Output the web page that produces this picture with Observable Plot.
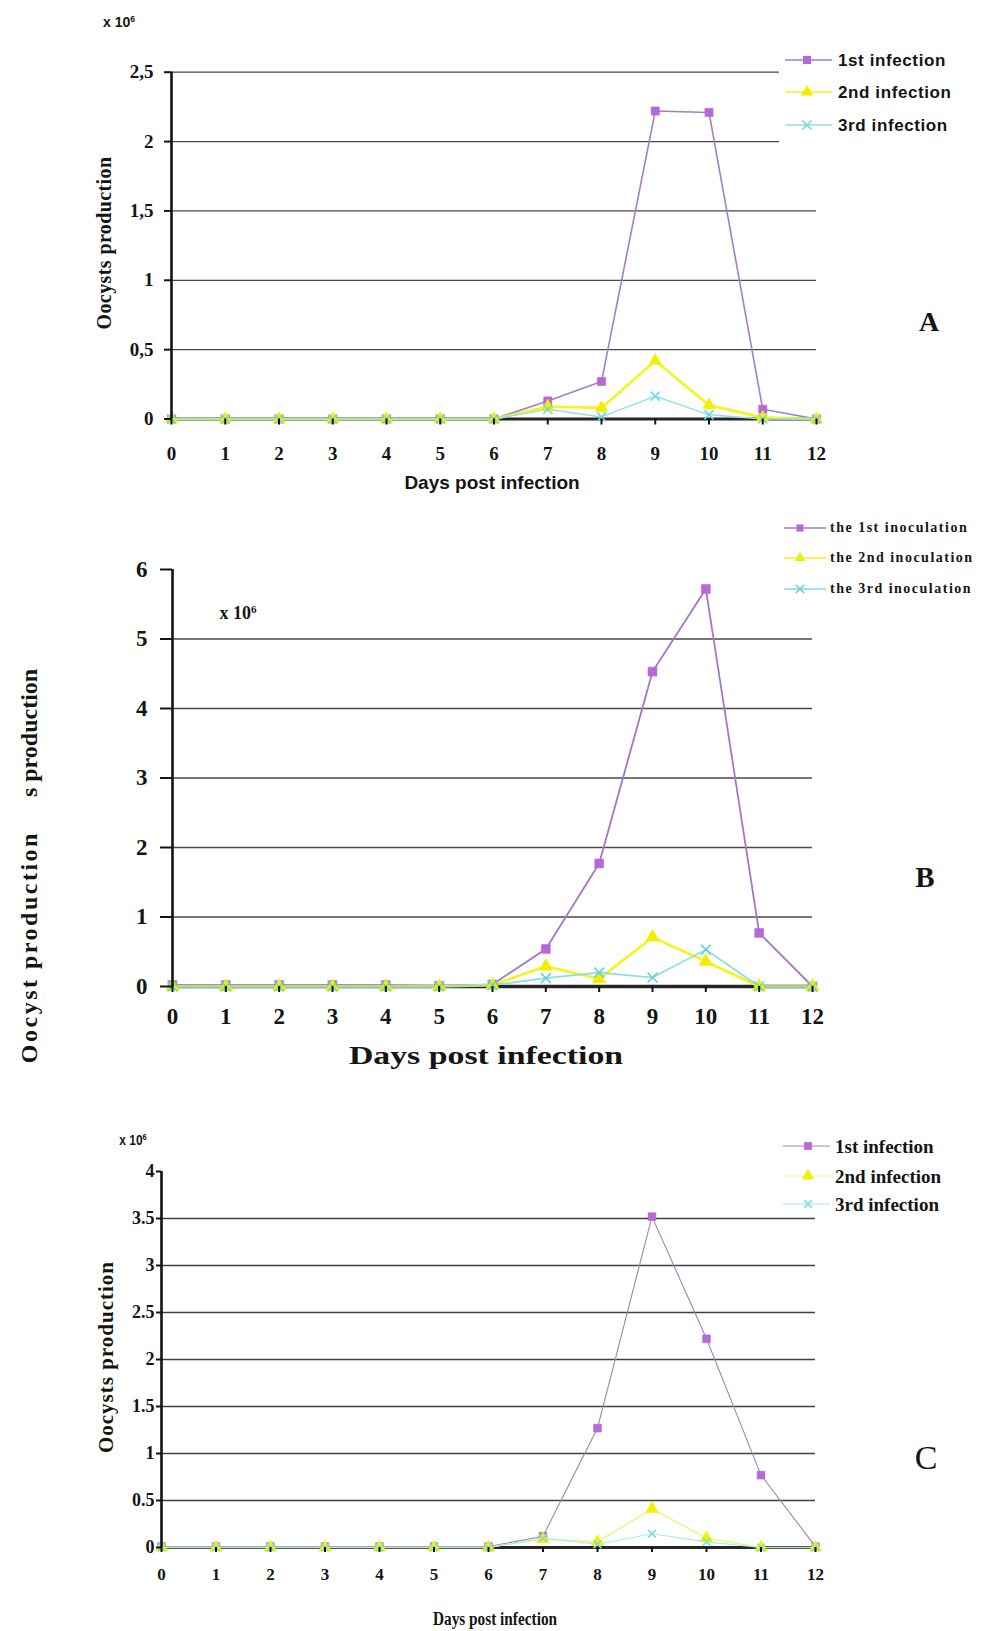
<!DOCTYPE html>
<html>
<head>
<meta charset="utf-8">
<script src="https://cdn.jsdelivr.net/npm/d3@7"></script>
<script src="https://cdn.jsdelivr.net/npm/@observablehq/plot@0.6"></script>
<style>
  html, body { margin: 0; padding: 0; background: #fff; }
  #root { position: relative; width: 985px; height: 1631px; overflow: hidden; background: #fff; }
  .abs { position: absolute; white-space: pre; color: #151515; line-height: 1; }
  .serif { font-family: "Liberation Serif", "Times New Roman", serif; font-weight: bold; }
  .serifn { font-family: "Liberation Serif", "Times New Roman", serif; font-weight: normal; }
  .sans { font-family: "Liberation Sans", Arial, sans-serif; font-weight: bold; }
  .panel { position: absolute; left: 0; }
  sup { font-size: 0.62em; vertical-align: 0.55em; line-height: 0; }
</style>
</head>
<body>
<div id="root"></div>
<script>
// ---------- data ----------
const days = [0, 1, 2, 3, 4, 5, 6, 7, 8, 9, 10, 11, 12];

// Panel A (x 10^6)
const aFirst  = [0, 0, 0, 0, 0, 0, 0, 0.13, 0.27, 2.22, 2.21, 0.07, 0];
const aSecond = [0, 0, 0, 0, 0, 0, 0, 0.09, 0.08, 0.42, 0.10, 0.01, 0];
const aThird  = [0, 0, 0, 0, 0, 0, 0, 0.07, 0.015, 0.165, 0.03, 0, 0];
const aNames  = ["1st infection", "2nd infection", "3rd infection"];
const aYTicks = [0, 0.5, 1, 1.5, 2, 2.5];
const aGrid   = [0.5, 1, 1.5, 2, 2.5];

// Panel B (x 10^6)
const bFirst  = [0.02, 0.02, 0.02, 0.02, 0.02, 0.01, 0.03, 0.54, 1.77, 4.53, 5.72, 0.77, 0];
const bSecond = [0, 0, 0, 0, 0, 0, 0.02, 0.29, 0.11, 0.71, 0.36, 0, 0];
const bThird  = [0, 0, 0, 0, 0, 0, 0.02, 0.12, 0.20, 0.13, 0.53, 0, 0];
const bNames  = ["the 1st inoculation", "the 2nd inoculation", "the 3rd inoculation"];
const bYTicks = [0, 1, 2, 3, 4, 5, 6];
const bGrid   = [1, 2, 3, 4, 5];

// Panel C (x 10^6)
const cFirst  = [0.01, 0.01, 0.01, 0.01, 0.01, 0.01, 0.01, 0.12, 1.27, 3.52, 2.22, 0.77, 0.01];
const cSecond = [0, 0, 0, 0, 0, 0, 0, 0.09, 0.06, 0.41, 0.10, 0, 0];
const cThird  = [0, 0, 0, 0, 0, 0, 0, 0.10, 0.035, 0.146, 0.06, 0, 0];
const cNames  = ["1st infection", "2nd infection", "3rd infection"];
const cYTicks = [0, 0.5, 1, 1.5, 2, 2.5, 3, 3.5, 4];
const cGrid   = [0.5, 1, 1.5, 2, 2.5, 3, 3.5];

const xTitle = "Days post infection";

// ---------- helpers ----------
const root = document.getElementById("root");
const SERIF = "Liberation Serif, Times New Roman, serif";

function panel(cfg) {
  const marks = [
    Plot.ruleY(cfg.grid, {stroke: cfg.gridColor, strokeWidth: cfg.gridWidth}),
    Plot.ruleY([0], {stroke: "#262626", strokeWidth: cfg.baseWidth})
  ];
  const rowsOf = s => days.map((d, i) => ({day: d, v: s.values[i]}));
  cfg.series.forEach(s => {
    marks.push(Plot.line(rowsOf(s), {x: "day", y: "v", stroke: s.line, strokeWidth: s.lw}));
  });
  cfg.series.forEach(s => {
    if (s.symbol === "times") {
      marks.push(Plot.dot(rowsOf(s), {x: "day", y: "v", symbol: "times", stroke: s.mark, strokeWidth: 1.6, r: s.r}));
    } else {
      marks.push(Plot.dot(rowsOf(s), {x: "day", y: "v", symbol: s.symbol, fill: s.mark, stroke: s.mark, strokeWidth: 0.6, r: s.r}));
    }
  });
  marks.push(Plot.ruleX([0], {y1: 0, y2: cfg.yMax, stroke: "#141414", strokeWidth: 2.6}));
  marks.push(Plot.axisY(cfg.yTicks, {
    label: null,
    tickSize: cfg.yTickSize, tickPadding: cfg.yTickPad, tickFormat: cfg.yFormat,
    fontSize: cfg.yFont, fontWeight: "bold", fontFamily: SERIF, stroke: "#141414", strokeWidth: 2, fill: "#151515"
  }));
  marks.push(Plot.axisX(days, {
    label: null,
    tickSize: cfg.xTickSize, tickPadding: cfg.xTickPad, tickFormat: d => String(d),
    fontSize: cfg.xFont, fontWeight: "bold", fontFamily: SERIF, stroke: "#141414", strokeWidth: 2, fill: "#151515"
  }));
  const svg = Plot.plot({
    width: 985,
    height: cfg.height,
    marginLeft: cfg.x0,
    marginRight: 985 - cfg.x12,
    marginTop: cfg.yTopPx - cfg.top,
    marginBottom: cfg.top + cfg.height - cfg.y0Px,
    x: {domain: [0, 12], axis: null, label: null},
    y: {domain: [0, cfg.yMax], axis: null, label: null},
    style: {background: "transparent", overflow: "visible", fontFamily: SERIF},
    marks
  });
  svg.classList.add("panel");
  svg.style.top = cfg.top + "px";
  root.appendChild(svg);
}

function label(html, o) {
  const d = document.createElement("div");
  d.className = "abs " + (o.cls || "serif");
  d.innerHTML = html;
  d.style.left = o.x + "px";
  d.style.top = o.y + "px";
  d.style.fontSize = o.size + "px";
  if (o.ls) d.style.letterSpacing = o.ls + "px";
  const tx = o.anchor === "start" ? "0" : o.anchor === "end" ? "-100%" : "-50%";
  const origin = o.anchor === "start" ? "left center" : "center center";
  d.style.transformOrigin = origin;
  d.style.transform = `translate(${tx},-50%) rotate(${o.rotate || 0}deg) scaleX(${o.sx || 1})`;
  root.appendChild(d);
  return d;
}

function legend(entries, o) {
  if (o.bg) {
    const b = document.createElement("div");
    b.style.cssText = `position:absolute;left:${o.bg[0]}px;top:${o.bg[1]}px;width:${o.bg[2]}px;height:${o.bg[3]}px;background:#fff;`;
    root.appendChild(b);
  }
  entries.forEach((e, i) => {
    const y = o.rows[i];
    const svg = d3.create("svg")
      .attr("width", o.x2 - o.x1 + 20).attr("height", 20)
      .style("position", "absolute").style("left", (o.x1 - 10) + "px").style("top", (y - 10) + "px");
    svg.append("line").attr("x1", 10).attr("x2", o.x2 - o.x1 + 10).attr("y1", 10).attr("y2", 10)
      .attr("stroke", e.line).attr("stroke-width", e.lw);
    const sym = {square: d3.symbolSquare, triangle: d3.symbolTriangle, times: d3.symbolTimes}[e.symbol];
    const p = svg.append("path").attr("d", d3.symbol(sym, Math.PI * e.r * e.r)())
      .attr("transform", `translate(${o.mx - o.x1 + 10},10)`);
    if (e.symbol === "times") p.attr("fill", "none").attr("stroke", e.mark).attr("stroke-width", 1.5);
    else p.attr("fill", e.mark);
    root.appendChild(svg.node());
    label(e.name, {x: o.tx, y: y, size: o.size, cls: o.cls, anchor: "start", ls: o.ls, sx: o.sx});
  });
}

// ---------- Panel A ----------
const aStyle = [
  {values: aFirst,  line: "#a67ec2", mark: "#b669d6", symbol: "square",   lw: 1.6, r: 4.6},
  {values: aSecond, line: "#f4f41e", mark: "#f2ee00", symbol: "triangle", lw: 2.6, r: 4.6},
  {values: aThird,  line: "#8fe3e3", mark: "#6fd8d8", symbol: "times",    lw: 1.5, r: 4.2}
];
panel({
  top: 0, height: 500, x0: 171, x12: 816, yTopPx: 71.7, y0Px: 418.5, yMax: 2.5,
  grid: aGrid, gridColor: "#4a4a4a", gridWidth: 1.3, baseWidth: 3,
  yTicks: aYTicks, yFormat: d => String(d).replace(".", ","), yFont: 19, yTickSize: 7, yTickPad: 11,
  xFont: 19, xTickSize: 6, xTickPad: 21,
  series: aStyle
});
label("x 10<sup>6</sup>", {x: 119, y: 22, size: 14, cls: "sans"});
label("Oocysts production", {x: 104, y: 243, size: 20, rotate: -90, ls: 0.4});
label(xTitle, {x: 492, y: 482, size: 19, cls: "sans"});
label("A", {x: 929, y: 322, size: 28});
legend(aNames.map((n, i) => ({name: n, ...aStyle[i], lw: 1.3})), {
  x1: 785, x2: 832, mx: 807, tx: 838, rows: [60, 92, 125], size: 17, cls: "sans", ls: 0.6,
  bg: [779, 44, 206, 104]
});

// ---------- Panel B ----------
const bStyle = [
  {values: bFirst,  line: "#a775c8", mark: "#b669d6", symbol: "square",   lw: 1.8, r: 5},
  {values: bSecond, line: "#f4f41e", mark: "#f2ee00", symbol: "triangle", lw: 2.6, r: 5},
  {values: bThird,  line: "#86dede", mark: "#63d3d6", symbol: "times",    lw: 1.6, r: 4.6}
];
panel({
  top: 500, height: 580, x0: 172, x12: 812, yTopPx: 569, y0Px: 986, yMax: 6,
  grid: bGrid, gridColor: "#4a4a4a", gridWidth: 1.3, baseWidth: 3.4,
  yTicks: bYTicks, yFormat: d => String(d), yFont: 23, yTickSize: 12, yTickPad: 13,
  xFont: 23, xTickSize: 6, xTickPad: 15,
  series: bStyle
});
label("x 10<sup>6</sup>", {x: 238, y: 613, size: 18});
label('<span style="letter-spacing:2.5px">Oocyst production</span><span style="display:inline-block;width:34px"></span><span>s production</span>',
  {x: 29, y: 866, size: 24, rotate: -90});
label(xTitle, {x: 486, y: 1056, size: 26, sx: 1.3});
label("B", {x: 925, y: 877, size: 29});
legend(bNames.map((n, i) => ({name: n, ...bStyle[i], lw: 1.4, r: 4})), {
  x1: 784, x2: 826, mx: 800, tx: 830, rows: [528, 558, 589], size: 14, cls: "serif", ls: 1.5
});

// ---------- Panel C ----------
const cStyle = [
  {values: cFirst,  line: "#9a86b8", mark: "#b66ad6", symbol: "square",   lw: 1.1, r: 4.4},
  {values: cSecond, line: "#f2f27c", mark: "#f4f000", symbol: "triangle", lw: 1.4, r: 4.6},
  {values: cThird,  line: "#a8ecec", mark: "#7fdede", symbol: "times",    lw: 1.1, r: 3.6}
];
panel({
  top: 1080, height: 551, x0: 161, x12: 815, yTopPx: 1171, y0Px: 1547, yMax: 4,
  grid: cGrid, gridColor: "#404040", gridWidth: 1.3, baseWidth: 2.8,
  yTicks: cYTicks, yFormat: d => String(d), yFont: 18, yTickSize: 5, yTickPad: 2,
  xFont: 17, xTickSize: 5, xTickPad: 15,
  series: cStyle
});
label("x 10<sup>6</sup>", {x: 133, y: 1140, size: 14, cls: "sans", sx: 0.85});
label("Oocysts production", {x: 106, y: 1357, size: 21, rotate: -90, ls: 1});
label(xTitle, {x: 495, y: 1619, size: 18, sx: 0.85});
label("C", {x: 926, y: 1458, size: 34, cls: "serifn"});
legend(cNames.map((n, i) => ({name: n, ...cStyle[i], lw: 1.1})), {
  x1: 783, x2: 830, mx: 808, tx: 835, rows: [1146, 1176, 1204], size: 19, cls: "serif", ls: 0
});
</script>
</body>
</html>
